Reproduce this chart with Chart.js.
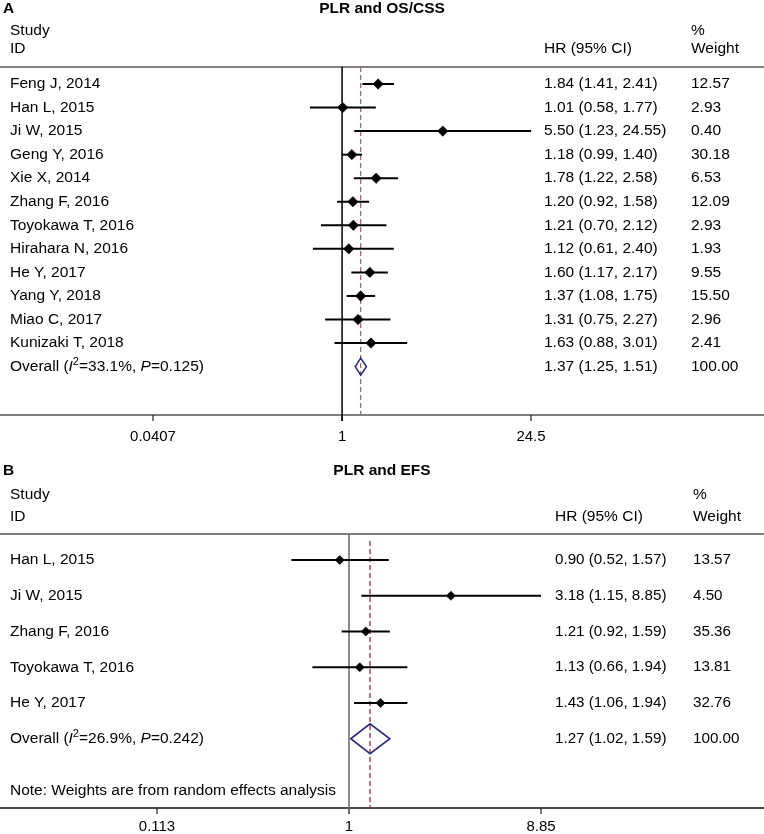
<!DOCTYPE html>
<html>
<head>
<meta charset="utf-8">
<script src="https://cdn.jsdelivr.net/npm/chart.js@4.4.1/dist/chart.umd.min.js"></script>
<style>
  html, body { margin: 0; padding: 0; background: #fff; }
  #wrap { position: relative; width: 764px; height: 834px; }
  canvas { position: absolute; left: 0; }
  #cA { top: 0; }
  #cB { top: 450px; }
</style>
</head>
<body>
<div id="wrap">
  <canvas id="cA" width="764" height="450"></canvas>
  <canvas id="cB" width="764" height="384"></canvas>
</div>
<script>
// Forest plots: PLR and OS/CSS (A), PLR and EFS (B)

// ---------- data: panel A ----------
const STUDIES_A = ["Feng J, 2014", "Han L, 2015", "Ji W, 2015", "Geng Y, 2016", "Xie X, 2014", "Zhang F, 2016",
  "Toyokawa T, 2016", "Hirahara N, 2016", "He Y, 2017", "Yang Y, 2018", "Miao C, 2017", "Kunizaki T, 2018"];
const HR_A = [1.84, 1.01, 5.50, 1.18, 1.78, 1.20, 1.21, 1.12, 1.60, 1.37, 1.31, 1.63];
const LO_A = [1.41, 0.58, 1.23, 0.99, 1.22, 0.92, 0.70, 0.61, 1.17, 1.08, 0.75, 0.88];
const HI_A = [2.41, 1.77, 24.55, 1.40, 2.58, 1.58, 2.12, 2.40, 2.17, 1.75, 2.27, 3.01];
const WT_A = [12.57, 2.93, 0.40, 30.18, 6.53, 12.09, 2.93, 1.93, 9.55, 15.50, 2.96, 2.41];
const OVERALL_A = [1.37, 1.25, 1.51];          // hr, lo, hi
const HET_A = ["33.1%", "0.125"];              // I2, P
const TICKS_A = [0.0407, 1, 24.5];
const TICK_LABELS_A = ["0.0407", "1", "24.5"];

// ---------- data: panel B ----------
const STUDIES_B = ["Han L, 2015", "Ji W, 2015", "Zhang F, 2016", "Toyokawa T, 2016", "He Y, 2017"];
const HR_B = [0.90, 3.18, 1.21, 1.13, 1.43];
const LO_B = [0.52, 1.15, 0.92, 0.66, 1.06];
const HI_B = [1.57, 8.85, 1.59, 1.94, 1.94];
const WT_B = [13.57, 4.50, 35.36, 13.81, 32.76];
const OVERALL_B = [1.27, 1.02, 1.59];
const HET_B = ["26.9%", "0.242"];
const TICKS_B = [0.113, 1, 8.85];
const TICK_LABELS_B = ["0.113", "1", "8.85"];

const FONT = '"Liberation Sans", Arial, Helvetica, sans-serif';
const f = (n) => n.toFixed(2);

function hline(ctx, x1, x2, y) { ctx.beginPath(); ctx.moveTo(x1, y); ctx.lineTo(x2, y); ctx.stroke(); }
function vline(ctx, x, y1, y2) { ctx.beginPath(); ctx.moveTo(x, y1); ctx.lineTo(x, y2); ctx.stroke(); }

function forest(id, p) {
  const n = p.studies.length;
  const plugin = {
    id: "forest_" + id,
    beforeDatasetsDraw(chart) {
      const { ctx, scales: { x, y }, chartArea: a } = chart;
      const W = chart.width;
      ctx.save();
      // header separator and bottom axis line (full width)
      ctx.strokeStyle = p.sepColor; ctx.lineWidth = p.sepW;
      hline(ctx, 0, W, a.top);
      ctx.strokeStyle = p.axisColor; ctx.lineWidth = p.axisW;
      hline(ctx, 0, W, a.bottom);
      // ticks
      ctx.strokeStyle = "#222"; ctx.lineWidth = 1.2;
      p.ticks.forEach((t) => vline(ctx, x.getPixelForValue(t), a.bottom, a.bottom + 6));
      // null line
      ctx.strokeStyle = p.nullColor; ctx.lineWidth = 1.5;
      vline(ctx, x.getPixelForValue(1), a.top, a.bottom + 6);
      // overall dashed line
      ctx.strokeStyle = p.dashColor; ctx.lineWidth = 1.3; ctx.setLineDash([5, 3]);
      vline(ctx, x.getPixelForValue(p.overall[0]), a.top + p.dashStart, a.bottom);
      ctx.setLineDash([]);
      // whiskers
      ctx.strokeStyle = "#000"; ctx.lineWidth = p.whiskW;
      for (let i = 0; i < n; i++) {
        hline(ctx, x.getPixelForValue(p.lo[i]), x.getPixelForValue(p.hi[i]), y.getPixelForValue(i));
      }
      // overall diamond
      const yc = y.getPixelForValue(n);
      const xl = x.getPixelForValue(p.overall[1]), xm = x.getPixelForValue(p.overall[0]), xr = x.getPixelForValue(p.overall[2]);
      ctx.strokeStyle = "#2b2b78"; ctx.lineWidth = 1.6;
      ctx.beginPath();
      ctx.moveTo(xl, yc); ctx.lineTo(xm, yc - p.diaH); ctx.lineTo(xr, yc); ctx.lineTo(xm, yc + p.diaH); ctx.closePath();
      ctx.stroke();
      ctx.restore();
    },
    afterDraw(chart) {
      const { ctx, scales: { x, y }, chartArea: a } = chart;
      ctx.save();
      ctx.fillStyle = "#000";
      ctx.textBaseline = "middle";
      // panel letter and title
      ctx.font = "bold 15.5px " + FONT;
      ctx.textAlign = "left";
      ctx.fillText(p.letter, 3, p.titleY);
      ctx.textAlign = "center";
      ctx.fillText(p.title, 382, p.titleY);
      // headers
      ctx.font = p.fs + "px " + FONT;
      ctx.textAlign = "left";
      ctx.fillText("Study", 10, p.studyY);
      ctx.fillText("ID", 10, p.idY);
      ctx.fillText("HR (95% CI)", p.hrX, p.idY);
      ctx.fillText("%", p.wtX, p.studyY);
      ctx.fillText("Weight", p.wtX, p.idY);
      // rows
      for (let i = 0; i < n; i++) {
        const yy = y.getPixelForValue(i);
        ctx.font = p.fs + "px " + FONT;
        ctx.fillText(p.studies[i], 10, yy);
        ctx.font = p.fsNum + "px " + FONT;
        ctx.fillText(`${f(p.hr[i])} (${f(p.lo[i])}, ${f(p.hi[i])})`, p.hrX, yy);
        ctx.fillText(f(p.wt[i]), p.wtX, yy);
      }
      // overall row with italic I, superscript 2, italic P
      const yo = y.getPixelForValue(n);
      let cx = 10;
      const seg = (txt, font, dy = 0) => { ctx.font = font; ctx.fillText(txt, cx, yo + dy); cx += ctx.measureText(txt).width; };
      const reg = p.fs + "px " + FONT, ita = "italic " + p.fs + "px " + FONT;
      seg("Overall (", reg);
      seg("I", ita);
      seg("2", "11px " + FONT, -5);
      seg("=" + p.het[0] + ", ", reg);
      seg("P", ita);
      seg("=" + p.het[1] + ")", reg);
      ctx.font = p.fsNum + "px " + FONT;
      ctx.fillText(`${f(p.overall[0])} (${f(p.overall[1])}, ${f(p.overall[2])})`, p.hrX, yo);
      ctx.fillText("100.00", p.wtX, yo);
      if (p.note) {
        ctx.font = p.fs + "px " + FONT;
        ctx.fillText(p.note, 10, y.getPixelForValue(p.noteRow));
      }
      // tick labels
      ctx.font = "15px " + FONT;
      ctx.textAlign = "center";
      p.ticks.forEach((t, i) => ctx.fillText(p.tickLabels[i], x.getPixelForValue(t), a.bottom + p.tickDy));
      ctx.restore();
    }
  };

  new Chart(document.getElementById(id), {
    type: "scatter",
    data: { datasets: [{
      data: p.hr.map((v, i) => ({ x: v, y: i })),
      pointStyle: "rectRot", pointRadius: p.markR, backgroundColor: "#000", borderColor: "#000", borderWidth: 0.6
    }] },
    options: {
      responsive: false, animation: false, events: [],
      layout: { padding: p.pad },
      plugins: { legend: { display: false }, tooltip: { enabled: false } },
      scales: {
        x: { type: "logarithmic", min: p.ticks[0], max: p.ticks[2], display: false },
        y: { type: "linear", min: p.yMin, max: p.yMax, reverse: true, display: false }
      }
    },
    plugins: [plugin]
  });
}

forest("cA", {
  letter: "A", title: "PLR and OS/CSS", titleY: 9, studyY: 31, idY: 49,
  studies: STUDIES_A, hr: HR_A, lo: LO_A, hi: HI_A, wt: WT_A, overall: OVERALL_A, het: HET_A,
  ticks: TICKS_A, tickLabels: TICK_LABELS_A, tickDy: 22,
  pad: { left: 153, right: 233, top: 67, bottom: 35 },
  yMin: -0.722, yMax: 14.055,
  hrX: 544, wtX: 691, fs: 15.5, fsNum: 15.5,
  sepColor: "#808080", sepW: 2, axisColor: "#808080", axisW: 2,
  nullColor: "#000", dashColor: "#9c6877", dashStart: 0,
  whiskW: 2, markR: 5.2, diaH: 8.5
});

forest("cB", {
  letter: "B", title: "PLR and EFS", titleY: 21, studyY: 45, idY: 67,
  studies: STUDIES_B, hr: HR_B, lo: LO_B, hi: HI_B, wt: WT_B, overall: OVERALL_B, het: HET_B,
  ticks: TICKS_B, tickLabels: TICK_LABELS_B, tickDy: 19,
  note: "Note: Weights are from random effects analysis", noteRow: 6.45,
  pad: { left: 157, right: 223, top: 84, bottom: 26 },
  yMin: -0.727, yMax: 6.937,
  hrX: 555, wtX: 693, fs: 15.5, fsNum: 15.2,
  sepColor: "#555", sepW: 1.6, axisColor: "#111", axisW: 1.5,
  nullColor: "#666", dashColor: "#8a2f3f", dashStart: 7,
  whiskW: 1.8, markR: 4.6, diaH: 15
});
</script>
</body>
</html>
